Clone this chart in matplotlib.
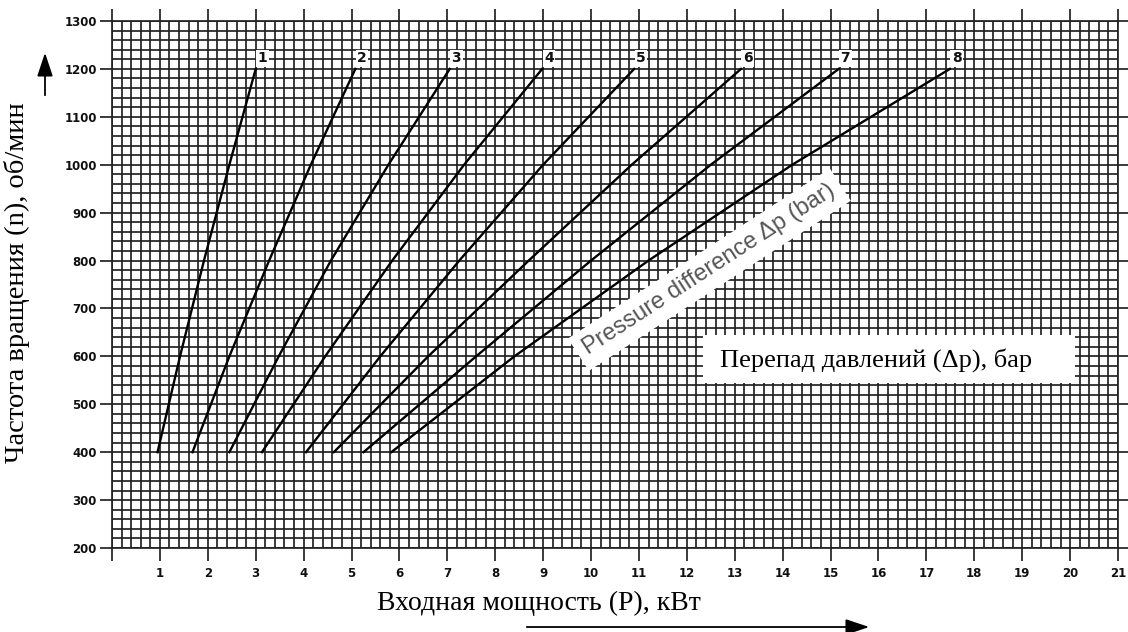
import matplotlib
matplotlib.use("Agg")
import matplotlib.pyplot as plt
from matplotlib.ticker import MultipleLocator
from matplotlib.patches import Rectangle, FancyArrowPatch

# Rotational speed values (rpm) at which each curve is tabulated
speed_rpm = [400, 600, 800, 1000, 1200]

# Input power (kW) for each pressure difference curve, bar 1..8
curve_labels = ["1", "2", "3", "4", "5", "6", "7", "8"]
power_dp1 = [0.95, 1.42, 1.92, 2.45, 3.00]
power_dp2 = [1.68, 2.45, 3.28, 4.15, 5.08]
power_dp3 = [2.45, 3.48, 4.57, 5.77, 7.05]
power_dp4 = [3.13, 4.45, 5.85, 7.35, 8.98]
power_dp5 = [4.05, 5.60, 7.25, 9.00, 10.90]
power_dp6 = [4.63, 6.60, 8.70, 10.85, 13.13]
power_dp7 = [5.25, 7.60, 10.00, 12.50, 15.17]
power_dp8 = [5.83, 8.40, 11.20, 14.20, 17.49]
power_curves = [power_dp1, power_dp2, power_dp3, power_dp4,
                power_dp5, power_dp6, power_dp7, power_dp8]

x_ticks = list(range(0, 22))
x_tick_labels = [""] + [str(v) for v in range(1, 22)]
y_ticks = list(range(200, 1301, 100))
y_tick_labels = [str(v) for v in y_ticks]

W, H = 1128, 632
fig = plt.figure(figsize=(W / 100, H / 100), dpi=100)
ax = fig.add_axes([112 / W, 1 - 548 / H, (1118 - 112) / W, (548 - 21) / H])

grid_color = "#222222"
ax.set_xlim(0, 21)
ax.set_ylim(200, 1300)
ax.xaxis.set_minor_locator(MultipleLocator(0.2))
ax.yaxis.set_minor_locator(MultipleLocator(20))
ax.set_xticks(x_ticks)
ax.set_xticklabels(x_tick_labels)
ax.set_yticks(y_ticks)
ax.set_yticklabels(y_tick_labels)
ax.grid(True, which="both", color=grid_color, linewidth=1.25)
ax.set_axisbelow(True)
ax.tick_params(which="minor", length=0)
ax.tick_params(which="major", direction="out", length=9, width=1.25,
               color=grid_color, top=True, right=True)
ax.tick_params(axis="x", pad=5)
ax.tick_params(axis="y", pad=2)
tick_font = ["Liberation Sans Narrow", "DejaVu Sans"]
for lab in ax.get_xticklabels() + ax.get_yticklabels():
    lab.set_family(tick_font)
    lab.set_fontweight("bold")
    lab.set_fontsize(8.5)
    lab.set_color("#111111")
for sp in ax.spines.values():
    sp.set_color(grid_color)
    sp.set_linewidth(1.25)

# Power curves for each pressure difference
for lbl, pw in zip(curve_labels, power_curves):
    ax.plot(pw, speed_rpm, color="black", linewidth=1.7, zorder=3)
    ax.text(pw[-1] + 0.14, speed_rpm[-1] + 22, lbl, fontsize=10,
            fontweight="bold", family=tick_font, color="#111111",
            ha="center", va="center", zorder=4,
            bbox=dict(facecolor="white", edgecolor="none", pad=1.0))

# Diagonal English caption along the curves
ax.text(12.47, 781, "Pressure difference \u0394p (bar)", rotation=33,
        rotation_mode="anchor", ha="center", va="center",
        family=["Liberation Sans", "DejaVu Sans"], fontsize=17,
        color="#555555", zorder=5,
        bbox=dict(facecolor="white", edgecolor="none", pad=6))

# Russian caption in a white box
ax.add_patch(Rectangle((12.34, 544), 20.1 - 12.34, 644 - 544,
                       facecolor="white", edgecolor="none", zorder=5))
ax.text(15.95, 592, "Перепад давлений (\u0394p), бар", ha="center",
        va="center", family=["Liberation Serif", "DejaVu Serif"],
        fontsize=19, color="black", zorder=6)

serif = ["Liberation Serif", "DejaVu Serif"]
fig.text(539 / W, 1 - 603 / H, "Входная мощность (P), кВт", ha="center",
         va="center", family=serif, fontsize=20)
fig.text(17 / W, 1 - 283 / H, "Частота вращения (n), об/мин", ha="center",
         va="center", rotation=90, family=serif, fontsize=20.5)

# Direction arrows beside the axis titles
fig.add_artist(FancyArrowPatch(
    (45 / W, 1 - 98 / H), (45 / W, 1 - 50 / H), transform=fig.transFigure,
    arrowstyle="-|>,head_length=9,head_width=3", color="black",
    linewidth=1.3, mutation_scale=1.6))
fig.add_artist(FancyArrowPatch(
    (524 / W, 1 - 627 / H), (872 / W, 1 - 627 / H), transform=fig.transFigure,
    arrowstyle="-|>,head_length=9,head_width=3", color="black",
    linewidth=1.3, mutation_scale=1.6))

fig.savefig("out.png", dpi=100, facecolor="white")
